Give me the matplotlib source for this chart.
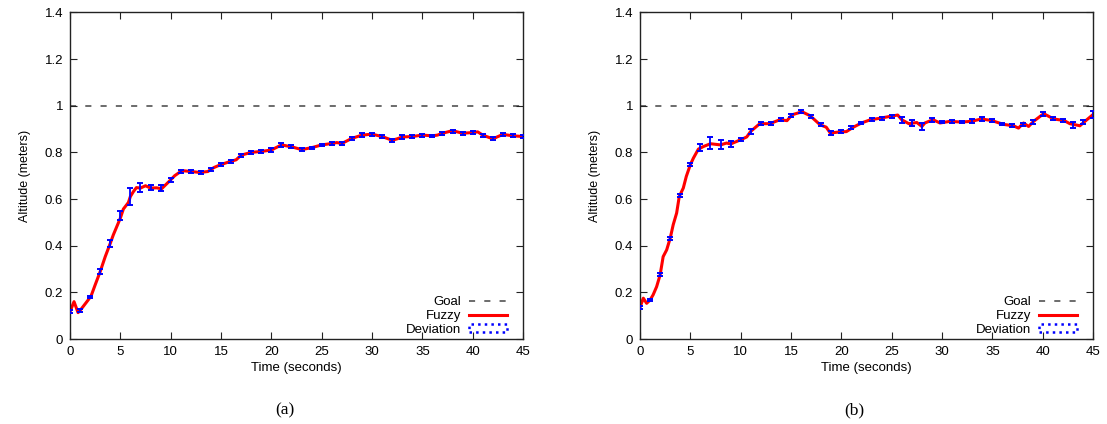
import matplotlib
matplotlib.use("Agg")
import matplotlib.pyplot as plt
from matplotlib.lines import Line2D
from matplotlib.patches import Patch
from matplotlib.ticker import FormatStrFormatter

# ---------------- data ----------------
goal = 1.0

t_a = [0, 0.4, 0.8, 1, 1.8, 2.1, 2.5, 3, 3.5, 4, 4.3, 5, 5.3, 5.8, 6, 6.3, 6.6, 7, 7.5, 8,
       8.6, 9.1, 10, 10.4, 10.9, 11.3, 12, 12.9, 13.7, 14.3, 15, 16, 16.5, 17, 18, 19, 20,
       21, 22, 22.5, 23, 24, 25, 26, 26.5, 27, 28, 29, 30, 31, 32, 32.5, 33, 34, 35, 36,
       36.5, 37, 38, 39, 40, 40.5, 41, 42, 43, 44, 45]
alt_a = [0.117, 0.16, 0.113, 0.122, 0.167, 0.185, 0.232, 0.289, 0.353, 0.41, 0.446, 0.518,
         0.557, 0.585, 0.611, 0.632, 0.649, 0.647, 0.657, 0.647, 0.648, 0.644, 0.682, 0.70,
         0.715, 0.721, 0.718, 0.714, 0.718, 0.735, 0.748, 0.762, 0.768, 0.788, 0.80, 0.804,
         0.81, 0.832, 0.824, 0.818, 0.812, 0.82, 0.832, 0.838, 0.842, 0.838, 0.86, 0.874,
         0.878, 0.868, 0.852, 0.858, 0.866, 0.868, 0.874, 0.871, 0.874, 0.882, 0.893, 0.882,
         0.885, 0.888, 0.874, 0.858, 0.877, 0.871, 0.868]

dev_t = list(range(0, 46))
dev_mean_a = [0.117, 0.122, 0.18, 0.289, 0.41, 0.53, 0.611, 0.65, 0.65, 0.648, 0.682, 0.718,
              0.718, 0.714, 0.727, 0.748, 0.762, 0.788, 0.80, 0.804, 0.81, 0.832, 0.824, 0.812,
              0.82, 0.832, 0.838, 0.838, 0.86, 0.874, 0.878, 0.868, 0.852, 0.866, 0.868, 0.874,
              0.871, 0.882, 0.89, 0.882, 0.885, 0.874, 0.858, 0.877, 0.871, 0.868]
dev_err_a = [0.006, 0.005, 0.006, 0.01, 0.015, 0.02, 0.035, 0.02, 0.012, 0.012, 0.008, 0.005,
             0.005, 0.005, 0.006, 0.005, 0.006, 0.007, 0.006, 0.006, 0.007, 0.01, 0.007, 0.006,
             0.005, 0.005, 0.006, 0.006, 0.007, 0.008, 0.006, 0.005, 0.006, 0.008, 0.007, 0.006,
             0.005, 0.006, 0.008, 0.006, 0.007, 0.006, 0.007, 0.006, 0.006, 0.006]

t_b = [0, 0.33, 0.66, 1, 1.3, 1.65, 2, 2.3, 2.65, 3, 3.3, 3.64, 3.9, 4.3, 4.6, 5, 5.3, 5.8,
       6.3, 7, 8, 8.6, 9, 10, 10.6, 11, 11.9, 12.9, 13.9, 14.6, 15.1, 16.1, 16.9, 17.9, 18.5,
       18.9, 19.9, 20.5, 21.2, 22, 22.9, 23.8, 24.8, 25.6, 26, 26.7, 27.5, 28, 28.3, 29.1,
       29.8, 30.8, 31.9, 32.9, 33.9, 34.9, 36.1, 37.1, 37.6, 38.1, 38.6, 39.1, 40.1, 41.1,
       42.1, 42.7, 43.7, 44.2, 45]
alt_b = [0.136, 0.175, 0.153, 0.167, 0.189, 0.224, 0.275, 0.353, 0.382, 0.432, 0.49, 0.54,
         0.611, 0.647, 0.697, 0.747, 0.775, 0.814, 0.825, 0.837, 0.832, 0.84, 0.836, 0.854,
         0.866, 0.89, 0.923, 0.923, 0.94, 0.936, 0.961, 0.974, 0.957, 0.918, 0.908, 0.883,
         0.888, 0.889, 0.908, 0.926, 0.94, 0.946, 0.954, 0.96, 0.94, 0.923, 0.928, 0.911,
         0.926, 0.94, 0.926, 0.933, 0.93, 0.933, 0.943, 0.937, 0.92, 0.914, 0.904, 0.926,
         0.911, 0.933, 0.966, 0.943, 0.937, 0.923, 0.914, 0.933, 0.962]

dev_mean_b = [0.136, 0.167, 0.275, 0.432, 0.615, 0.747, 0.82, 0.84, 0.835, 0.836, 0.854, 0.89,
              0.923, 0.923, 0.94, 0.958, 0.974, 0.955, 0.918, 0.883, 0.888, 0.905, 0.926, 0.94,
              0.946, 0.955, 0.94, 0.925, 0.911, 0.938, 0.93, 0.933, 0.93, 0.933, 0.943, 0.937,
              0.922, 0.915, 0.92, 0.93, 0.964, 0.945, 0.937, 0.918, 0.93, 0.962]
dev_err_b = [0.006, 0.006, 0.006, 0.007, 0.007, 0.007, 0.015, 0.025, 0.02, 0.012, 0.007, 0.01,
             0.006, 0.006, 0.006, 0.006, 0.006, 0.007, 0.007, 0.008, 0.006, 0.006, 0.006, 0.006,
             0.006, 0.006, 0.012, 0.012, 0.015, 0.008, 0.006, 0.006, 0.006, 0.008, 0.007, 0.006,
             0.006, 0.007, 0.007, 0.007, 0.007, 0.006, 0.007, 0.012, 0.01, 0.015]

x_ticks = [0, 5, 10, 15, 20, 25, 30, 35, 40, 45]
y_ticks = [0, 0.2, 0.4, 0.6, 0.8, 1.0, 1.2, 1.4]
panel_labels = ["(a)", "(b)"]

# ---------------- figure ----------------
plt.rcParams['font.family'] = ['Liberation Sans', 'DejaVu Sans']
W, H = 1107, 424
fig = plt.figure(figsize=(W / 100, H / 100), dpi=100)

axes_px = [(70, 453), (640, 453)]
y_top, y_bot = 12.4, 339

datasets = [(t_a, alt_a, dev_mean_a, dev_err_a), (t_b, alt_b, dev_mean_b, dev_err_b)]

for (x0, w), (tt, aa, dm, de), plab in zip(axes_px, datasets, panel_labels):
    ax = fig.add_axes([x0 / W, 1 - y_bot / H, w / W, (y_bot - y_top) / H])
    ax.axhline(goal, color='#444444', lw=1.1, dashes=(4, 6), zorder=1)
    ax.plot(tt, aa, color='#ff0000', lw=2.2, zorder=2)
    ax.errorbar(dev_t, dm, yerr=de, fmt='none', ecolor='#0000ff', elinewidth=1.3,
                capsize=2.0, capthick=1.4, linestyle=':', zorder=3)
    ax.set_xlim(0, 45)
    ax.set_ylim(0, 1.4)
    ax.set_xticks(x_ticks)
    ax.set_yticks(y_ticks)
    ax.yaxis.set_major_formatter(FormatStrFormatter('%g'))
    ax.tick_params(direction='in', length=5, width=0.8, top=True, right=True,
                   labelsize=9.5, pad=5, color='#222222')
    for s in ax.spines.values():
        s.set_linewidth(1.0)
        s.set_color('#222222')
    ax.set_xlabel('Time (seconds)', fontsize=9.5, labelpad=3)
    ax.set_ylabel('Altitude (meters)', fontsize=9, labelpad=10)

    handles = [Line2D([], [], color='#444444', lw=1.1, dashes=(4, 6)),
               Line2D([], [], color='#ff0000', lw=2.2),
               Patch(facecolor='none', edgecolor='#0000ff', linestyle=':', linewidth=1.8)]
    ax.legend(handles, ['Goal', 'Fuzzy', 'Deviation'], loc='lower right',
              bbox_to_anchor=(0.985, -0.018), frameon=False, markerfirst=False,
              fontsize=9.5, handlelength=2.9, handleheight=0.6, labelspacing=0.12,
              handletextpad=0.6, borderpad=0.2)

    fig.text((x0 + w / 2 - 12) / W, 1 - 410 / H, plab, ha='center', va='center',
             fontsize=12.5, family='Liberation Serif')

fig.savefig('out.png', dpi=100)
